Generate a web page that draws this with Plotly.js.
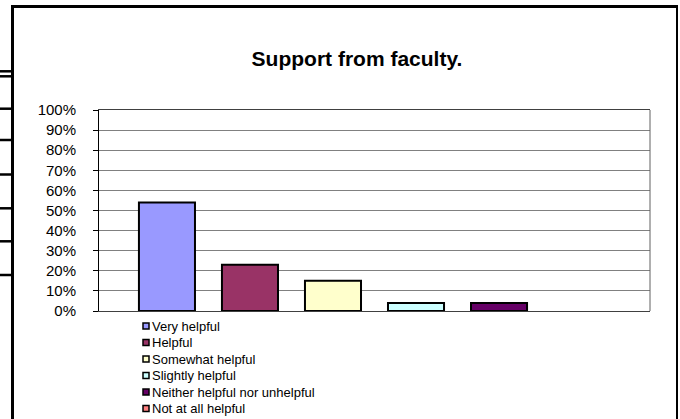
<!DOCTYPE html>
<html>
<head>
<meta charset="utf-8">
<script src="https://cdn.plot.ly/plotly-3.0.1.min.js"></script>
<style>html,body{margin:0;padding:0;background:#fff;}#chart{width:680px;height:419px;}</style>
</head>
<body>
<div id="chart"></div>
<script>
// ---- data ----
const seriesNames = ["Very helpful", "Helpful", "Somewhat helpful", "Slightly helpful", "Neither helpful nor unhelpful", "Not at all helpful"];
const seriesValues = [0.54, 0.23, 0.15, 0.04, 0.04, 0.00];
const seriesColors = ["#9999FF", "#993366", "#FFFFCC", "#CCFFFF", "#660066", "#FF8080"];
const category = ["Support from faculty."];
const yTickValues = [0, 0.1, 0.2, 0.3, 0.4, 0.5, 0.6, 0.7, 0.8, 0.9, 1.0];

// ---- geometry helpers (pixel -> paper) ----
const W = 680, H = 419;
const M = {l: 99, r: 30, t: 110, b: 108};
const PW = W - M.l - M.r, PH = H - M.t - M.b;
const px = x => (x - M.l) / PW;
const py = y => (H - M.b - y) / PH;
const FONT = "Liberation Sans, Arial, sans-serif";

const traces = seriesNames.map((name, i) => ({
  type: "bar",
  name: name,
  x: category,
  y: [seriesValues[i]],
  marker: {color: seriesColors[i], line: {color: "#000", width: seriesValues[i] > 0 ? 2 : 0}},
  showlegend: false,
  hoverinfo: "name+y"
}));

const shapes = [];
const annotations = [];

// custom legend
seriesNames.forEach((name, i) => {
  const cy = 326 + i * 16.5;
  shapes.push({
    type: "rect", xref: "paper", yref: "paper",
    xsizemode: "pixel", ysizemode: "pixel",
    xanchor: px(146), yanchor: py(cy),
    x0: -3, x1: 3, y0: -3, y1: 3,
    fillcolor: seriesColors[i], line: {color: "#000", width: 1.5}
  });
  annotations.push({
    xref: "paper", yref: "paper", x: px(149.5), y: py(cy),
    xanchor: "left", yanchor: "middle", showarrow: false,
    text: name, font: {family: FONT, size: 13, color: "#000"}
  });
});

// right edge of plot area
shapes.push({type: "line", xref: "paper", yref: "paper", x0: 1, x1: 1, y0: 0, y1: 1,
  line: {color: "#606060", width: 1}});

// outer chart frame
shapes.push({type: "line", xref: "paper", yref: "paper", x0: px(12.5), x1: px(12.5), y0: py(5), y1: py(422),
  line: {color: "#000", width: 3}});
shapes.push({type: "line", xref: "paper", yref: "paper", x0: px(11), x1: px(678), y0: py(6.5), y1: py(6.5),
  line: {color: "#000", width: 3}});
shapes.push({type: "line", xref: "paper", yref: "paper", x0: px(677), x1: px(677), y0: py(5), y1: py(422),
  line: {color: "#000", width: 2}});
// spreadsheet cell borders to the left of the frame
[71.3, 76.3, 108.7, 140, 174.5, 208.3, 241.3, 275].forEach(y => {
  shapes.push({type: "line", xref: "paper", yref: "paper", x0: px(0), x1: px(12), y0: py(y), y1: py(y),
    line: {color: "#000", width: 2.5}});
});

const layout = {
  width: W, height: H,
  margin: M,
  paper_bgcolor: "#fff", plot_bgcolor: "#fff",
  font: {family: FONT, color: "#000"},
  title: {
    text: "<b>Support from faculty.</b>",
    font: {family: FONT, size: 21, color: "#000"},
    x: 357 / W, xanchor: "center", xref: "container",
    y: 1 - 59 / H, yanchor: "middle", yref: "container"
  },
  barmode: "group",
  bargap: 0.096,
  bargroupgap: 0.325,
  showlegend: false,
  xaxis: {
    showticklabels: false, ticks: "", showgrid: false, zeroline: false,
    showline: true, linecolor: "#404040", linewidth: 1, mirror: true,
    fixedrange: true
  },
  yaxis: {
    range: [0, 1], tickvals: yTickValues, tickformat: ".0%",
    ticks: "outside", ticklen: 5, tickcolor: "#000", tickwidth: 1,
    ticklabelstandoff: 14,
    tickfont: {family: FONT, size: 15, color: "#000"},
    showgrid: true, gridcolor: "#808080", gridwidth: 1,
    zeroline: false, showline: true, linecolor: "#000", linewidth: 1,
    fixedrange: true
  },
  shapes: shapes,
  annotations: annotations
};

Plotly.newPlot("chart", traces, layout, {displayModeBar: false, staticPlot: true});
</script>
</body>
</html>
